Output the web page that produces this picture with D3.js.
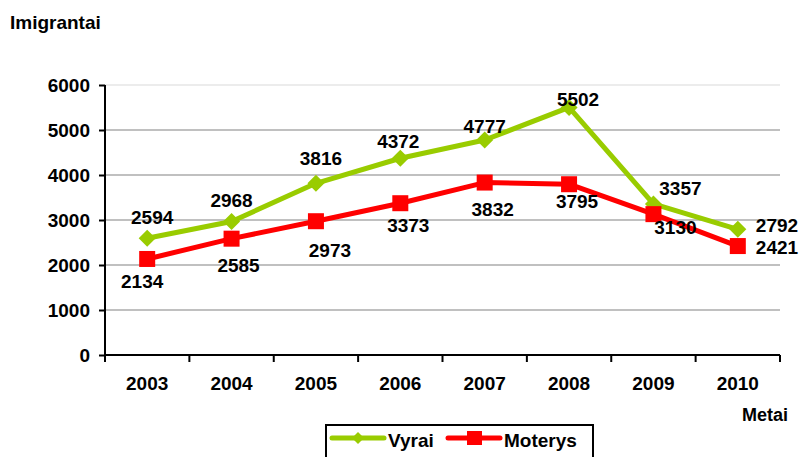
<!DOCTYPE html>
<html>
<head>
<meta charset="utf-8">
<script src="https://cdn.jsdelivr.net/npm/d3@7"></script>
<style>
  body { margin: 0; background: #fff; }
  svg { font-family: "Liberation Sans", Arial, sans-serif; font-weight: bold; }
</style>
</head>
<body>
<svg id="svg" width="802" height="457"></svg>
<script>
const years = ['2003', '2004', '2005', '2006', '2007', '2008', '2009', '2010'];
const vyrai = [2594, 2968, 3816, 4372, 4777, 5502, 3357, 2792];
const moterys = [2134, 2585, 2973, 3373, 3832, 3795, 3130, 2421];
const yTicks = [0, 1000, 2000, 3000, 4000, 5000, 6000];

// label offsets relative to each point [dx, dy, anchor]
const vyraiLabelPos = [[5, -21, 'middle'], [0, -21, 'middle'], [5, -25, 'middle'], [-2, -17, 'middle'], [0, -14, 'middle'], [9, -8, 'middle'], [27, -16, 'middle'], [18, -4, 'start']];
const moterysLabelPos = [[-5, 22, 'middle'], [7, 26, 'middle'], [14, 29, 'middle'], [8, 22, 'middle'], [8, 27, 'middle'], [8, 17, 'middle'], [22, 13, 'middle'], [18, 1, 'start']];

const margin = { left: 105, right: 22, top: 85, bottom: 102 };
const W = 802, H = 457;
const svg = d3.select('#svg');
const width = W - margin.left - margin.right;
const height = H - margin.top - margin.bottom;

const x = d3.scaleBand().domain(years).range([0, width]);
const y = d3.scaleLinear().domain([0, 6000]).range([height, 0]);

const g = svg.append('g').attr('transform', `translate(${margin.left},${margin.top})`);

// grid
g.append('g').selectAll('line').data(yTicks.filter(d => d > 0)).enter().append('line')
  .attr('x1', 0).attr('x2', width)
  .attr('y1', d => y(d)).attr('y2', d => y(d))
  .attr('stroke', d => d === 6000 ? '#ececec' : '#c0c0c0')
  .attr('stroke-width', 2);

// axes
const yAxis = g.append('g').call(d3.axisLeft(y).tickValues(yTicks).tickFormat(d3.format('d')).tickSize(6).tickPadding(9));
const xAxis = g.append('g').attr('transform', `translate(0,${height})`)
  .call(d3.axisBottom(x).tickSize(0).tickPadding(22));
// x ticks at band edges
xAxis.selectAll('.edge').data(d3.range(years.length + 1)).enter().append('line')
  .attr('x1', i => i * x.step()).attr('x2', i => i * x.step())
  .attr('y1', 0).attr('y2', 7).attr('stroke', '#000').attr('stroke-width', 2);

[yAxis, xAxis].forEach(a => {
  a.select('.domain').attr('stroke', '#000').attr('stroke-width', 2);
  a.selectAll('.tick line').attr('stroke', '#000').attr('stroke-width', 2);
  a.selectAll('text').attr('font-size', 19).attr('font-weight', 'bold').attr('fill', '#000')
    .attr('font-family', '"Liberation Sans", Arial, sans-serif');
});
xAxis.select('.domain').attr('d', `M0,0H${width}`);
yAxis.select('.domain').attr('d', `M0,${height}V0`);

const cx = i => x(years[i]) + x.bandwidth() / 2;
const line = d3.line().x((d, i) => cx(i)).y(d => y(d));

const green = '#99cc00', red = '#ff0000';

g.append('path').datum(vyrai).attr('d', line).attr('fill', 'none')
  .attr('stroke', green).attr('stroke-width', 5).attr('stroke-linejoin', 'round');
g.append('path').datum(moterys).attr('d', line).attr('fill', 'none')
  .attr('stroke', red).attr('stroke-width', 5).attr('stroke-linejoin', 'round');

const diamond = s => `M0,${-s}L${s},0L0,${s}L${-s},0Z`;
g.append('g').selectAll('path').data(vyrai).enter().append('path')
  .attr('d', diamond(8.5)).attr('fill', green)
  .attr('transform', (d, i) => `translate(${cx(i)},${y(d)})`);
g.append('g').selectAll('rect').data(moterys).enter().append('rect')
  .attr('x', (d, i) => cx(i) - 8).attr('y', d => y(d) - 8)
  .attr('width', 16).attr('height', 16).attr('fill', red);

const labels = (data, pos) => g.append('g').selectAll('text').data(data).enter().append('text')
  .attr('x', (d, i) => cx(i) + pos[i][0])
  .attr('y', (d, i) => y(d) + pos[i][1])
  .attr('dy', '0.36em')
  .attr('text-anchor', (d, i) => pos[i][2])
  .attr('font-size', 19).attr('fill', '#000')
  .text(d => d);
labels(vyrai, vyraiLabelPos);
labels(moterys, moterysLabelPos);

// titles
svg.append('text').attr('x', 10).attr('y', 29).attr('font-size', 19).text('Imigrantai');
svg.append('text').attr('x', 788).attr('y', 421).attr('text-anchor', 'end').attr('font-size', 18).text('Metai');

// legend
const lg = svg.append('g');
lg.append('rect').attr('x', 326).attr('y', 425).attr('width', 267).attr('height', 40)
  .attr('fill', '#fff').attr('stroke', '#000').attr('stroke-width', 2);
const items = [{ name: 'Vyrai', color: green, x: 330 }, { name: 'Moterys', color: red, x: 446 }];
items.forEach((it, k) => {
  lg.append('line').attr('x1', it.x + 2).attr('x2', it.x + 54).attr('y1', 438).attr('y2', 438)
    .attr('stroke', it.color).attr('stroke-width', 5).attr('stroke-linecap', 'round');
  if (k === 0) {
    lg.append('path').attr('d', diamond(6)).attr('fill', it.color).attr('transform', `translate(${it.x + 28},438)`);
  } else {
    lg.append('rect').attr('x', it.x + 21).attr('y', 431).attr('width', 15).attr('height', 14).attr('fill', it.color);
  }
  lg.append('text').attr('x', it.x + 58).attr('y', 447).attr('font-size', 19).text(it.name);
});
</script>
</body>
</html>
